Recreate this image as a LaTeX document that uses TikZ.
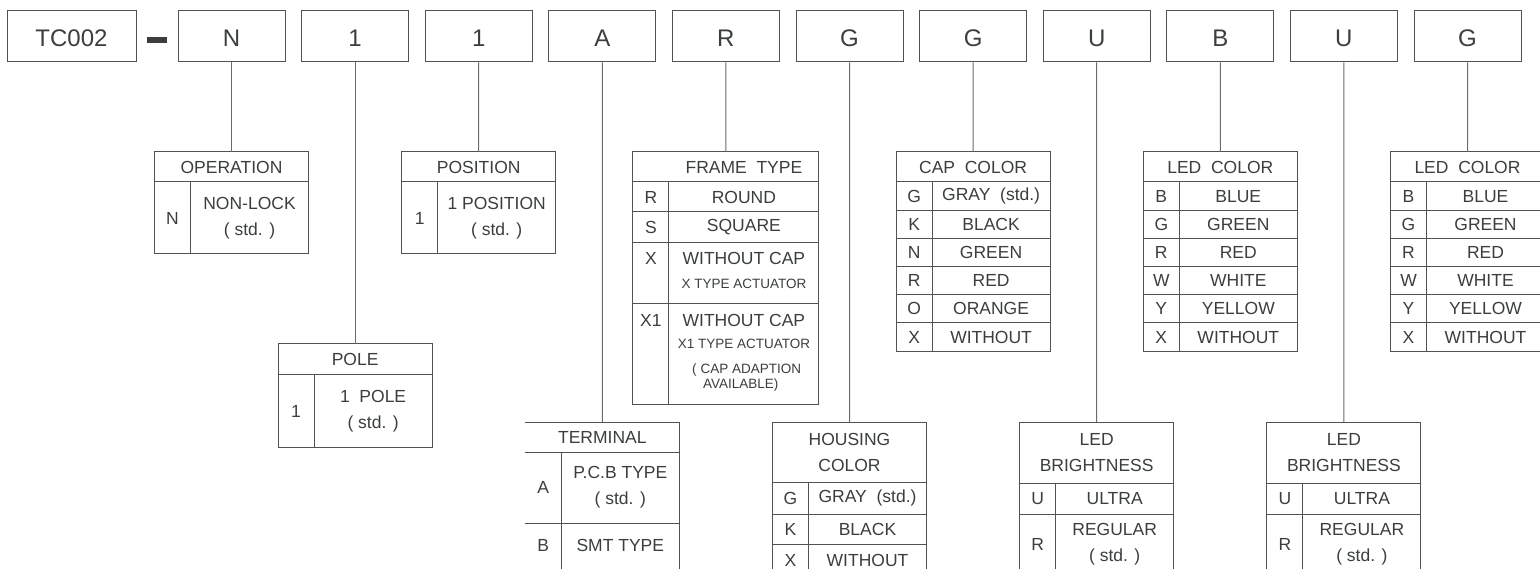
\documentclass[tikz,border=0pt]{standalone}
\usepackage{fontspec}
\setmainfont{Liberation Sans}
\usetikzlibrary{positioning}

\definecolor{ink}{RGB}{58,62,62}
\definecolor{boxline}{RGB}{78,82,82}
\definecolor{wireline}{RGB}{105,108,108}

\newcommand{\codefont}{\fontsize{24}{28}\selectfont}
\newcommand{\cellfont}{\fontsize{17.5}{26}\selectfont}
\newcommand{\notefont}{\fontsize{13.5}{16}\selectfont}

\tikzset{
  codebox/.style={draw=boxline, line width=1pt, minimum width=107pt, minimum height=51pt, inner sep=0pt, text height=21pt, font=\codefont, text=ink},
  wire/.style={draw=wireline, line width=1pt},
  tabline/.style={draw=boxline, line width=1pt},
  cell/.style={tabline, inner sep=0pt, outer sep=0pt, anchor=north west, font=\cellfont, text=ink, align=center},
  headc/.style={cell, minimum width=154pt, minimum height=30pt},
  keyc/.style={cell, minimum width=36pt},
  valc/.style={cell, minimum width=118pt},
  word/.style={inner sep=0pt, text=ink, font=\cellfont},
}

\begin{document}
\begin{tikzpicture}[x=1pt, y=-1pt]

    \useasboundingbox (0,0) rectangle (1540,569);
    \clip (0,0) rectangle (1540,569);

    % Part number
    \node[codebox, minimum width=129pt] (base) at (71.5,36.5) {TC002};
    \node[fill=ink, minimum width=20pt, minimum height=6pt, inner sep=0pt] (dash) at (157,39.7) {};
    \foreach \c [count=\i from 0] in {N,1,1,A,R,G,G,U,B,U,G}
        \node[codebox] (c\i) at ({231.5+123.6*\i},36.5) {\c};

    % Operation
    \node[headc] (opHead) at (154.5,152) {OPERATION};
    \node[keyc, minimum height=72pt] (opK) at (154.5,182) {N};
    \node[valc, minimum height=72pt, right=0pt of opK] (opV) {NON-LOCK\\( std. )};

    % Pole
    \node[headc, minimum height=31pt] (poleHead) at (278.1,344) {POLE};
    \node[keyc, minimum height=72pt] (poleK) at (278.1,375) {1};
    \node[valc, minimum height=72pt, right=0pt of poleK] (poleV) {1\ \ POLE\\( std. )};

    % Position
    \node[headc] (posHead) at (401.7,152) {POSITION};
    \node[keyc, minimum height=72pt] (posK) at (401.7,182) {1};
    \node[valc, minimum height=72pt, right=0pt of posK] (posV) {1 POSITION\\( std. )};

    % Terminal (open on the left)
    \node[headc, draw=none] (tmHead) at (525.3,422) {TERMINAL};
    \node[keyc, draw=none, minimum height=71pt] (tmK1) at (525.3,452) {A};
    \node[valc, draw=none, minimum height=71pt, right=0pt of tmK1] (tmV1) {P.C.B TYPE\\( std. )};
    \node[keyc, draw=none, minimum height=44pt, below=0pt of tmK1] (tmK2) {B};
    \node[valc, draw=none, minimum height=44pt, right=0pt of tmK2] (tmV2) {SMT TYPE};
    \draw[tabline] (tmHead.north west) -- (tmHead.north east) -- ++(0,170);
    \draw[tabline] (tmHead.south west) -- (tmHead.south east);
    \draw[tabline] (tmK1.south west) -- (tmV1.south east);
    \draw[tabline] (tmK1.north east) -- ++(0,140);

    % Frame type
    \node[headc, minimum width=186pt] (ftHead) at (632.9,152) {\hspace*{36pt}FRAME\ \ TYPE};
    \node[keyc, minimum height=30pt] (ftK1) at (632.9,182) {R};
    \node[valc, minimum width=150pt, minimum height=30pt, right=0pt of ftK1] (ftV1) {ROUND};
    \node[keyc, minimum height=31pt, below=0pt of ftK1] (ftK2) {S};
    \node[valc, minimum width=150pt, minimum height=31pt, right=0pt of ftK2] (ftV2) {SQUARE};
    \node[keyc, minimum height=61pt, below=0pt of ftK2] (ftK3) {};
    \node[valc, minimum width=150pt, minimum height=61pt, right=0pt of ftK3] (ftV3) {};
    \node[keyc, minimum height=100pt, below=0pt of ftK3] (ftK4) {};
    \node[valc, minimum width=150pt, minimum height=100pt, right=0pt of ftK4] (ftV4) {};
    \node[word] (ftX) at (650.9,258) {X};
    \node[word] (ftXa) at (743.9,258) {WITHOUT CAP};
    \node[word, font=\notefont] (ftXb) at (743.9,284) {X TYPE ACTUATOR};
    \node[word] (ftXone) at (650.9,320) {X1};
    \node[word] (ftXonea) at (743.9,320) {WITHOUT CAP};
    \node[word, font=\notefont] (ftXoneb) at (743.9,344) {X1 TYPE ACTUATOR};
    \node[word, font=\notefont] (ftXonec) at (746.7,370) {(\hspace{4pt}CAP ADAPTION};
    \node[word, font=\notefont] (ftXoned) at (740.8,385) {AVAILABLE)};

    % Housing color
    \node[headc, minimum height=60pt] (hsHead) at (772.5,422) {HOUSING\\COLOR};
    \node[keyc, minimum height=32pt] (hsK1) at (772.5,482) {G};
    \node[valc, minimum height=32pt, right=0pt of hsK1] (hsV1) {GRAY\ \ (std.)};
    \node[keyc, minimum height=30pt, below=0pt of hsK1] (hsK2) {K};
    \node[valc, minimum height=30pt, right=0pt of hsK2] (hsV2) {BLACK};
    \node[keyc, minimum height=32pt, below=0pt of hsK2] (hsK3) {X};
    \node[valc, minimum height=32pt, right=0pt of hsK3] (hsV3) {WITHOUT};

    % Cap color
    \node[headc] (capHead) at (896.1,152) {CAP\ \ COLOR};
    \foreach \k/\v [count=\i from 0] in {G/GRAY\ \ (std.),K/BLACK,N/GREEN,R/RED,O/ORANGE,X/WITHOUT} {
        \node[keyc, minimum height=28.2pt] (capK\i) at (896.1,{182+28.2*\i}) {\k};
        \node[valc, minimum height=28.2pt, right=0pt of capK\i] (capV\i) {\v};
    }

    % LED brightness
    \foreach \x/\n in {1019.7/lbA,1266.9/lbB} {
        \node[headc, minimum height=61pt] (\n Head) at (\x,422) {LED\\BRIGHTNESS};
        \node[keyc, minimum height=31pt] (\n K1) at (\x,483) {U};
        \node[valc, minimum height=31pt, right=0pt of \n K1] (\n V1) {ULTRA};
        \node[keyc, minimum height=60pt, below=0pt of \n K1] (\n K2) {R};
        \node[valc, minimum height=60pt, right=0pt of \n K2] (\n V2) {REGULAR\\( std. )};
    }

    % LED color
    \foreach \x/\n in {1143.3/lcA,1390.5/lcB} {
        \node[headc] (\n Head) at (\x,152) {LED\ \ COLOR};
        \foreach \k/\v [count=\i from 0] in {B/BLUE,G/GREEN,R/RED,W/WHITE,Y/YELLOW,X/WITHOUT} {
            \node[keyc, minimum height=28.2pt] (\n K\i) at (\x,{182+28.2*\i}) {\k};
            \node[valc, minimum height=28.2pt, right=0pt of \n K\i] (\n V\i) {\v};
        }
    }

    % Leaders
    \foreach \i/\t in {0/opHead,1/poleHead,2/posHead,3/tmHead,4/ftHead,5/hsHead,6/capHead,7/lbAHead,8/lcAHead,9/lbBHead,10/lcBHead}
        \draw[wire] (c\i.south) -- (\t.north);

\end{tikzpicture}
\end{document}
